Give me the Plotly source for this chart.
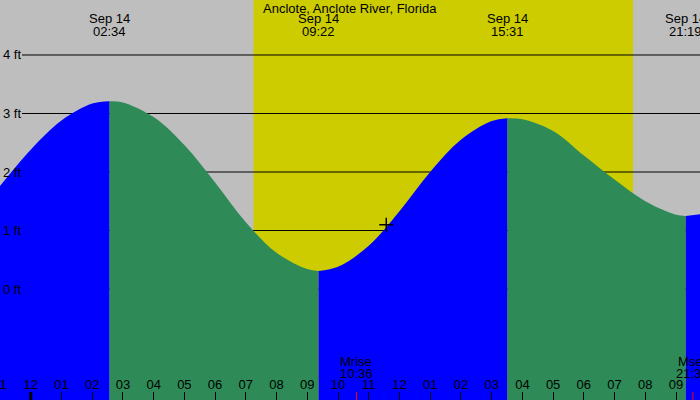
import plotly.graph_objects as go

title = "Anclote, Anclote River, Florida"

# times are hours from 00:00 on Sep 14
extreme_times = [2.567, 9.367, 15.517, 21.317]
extreme_dates = ["Sep 14", "Sep 14", "Sep 14", "Sep 14"]
extreme_clock = ["02:34", "09:22", "15:31", "21:19"]

# tide heights (ft), one list per rising/falling stretch
seg1_t = [-1, 0, 1, 2, 2.567]
seg1_h = [1.76, 2.38, 2.88, 3.17, 3.21]
seg2_t = [2.567, 3, 4, 5, 6, 7, 8, 9, 9.367]
seg2_h = [3.21, 3.19, 2.94, 2.46, 1.82, 1.14, 0.62, 0.34, 0.31]
seg3_t = [9.367, 10, 11, 12, 13, 14, 15, 15.517]
seg3_h = [0.31, 0.38, 0.74, 1.33, 2.00, 2.55, 2.87, 2.92]
seg4_t = [15.517, 16, 17, 18, 19, 20, 21, 21.317]
seg4_h = [2.92, 2.90, 2.70, 2.28, 1.87, 1.50, 1.27, 1.25]
seg5_t = [21.317, 22]
seg5_h = [1.25, 1.29]

hour_ticks = list(range(-1, 23))
hour_labels = ["11", "12", "01", "02", "03", "04", "05", "06", "07", "08", "09", "10",
               "11", "12", "01", "02", "03", "04", "05", "06", "07", "08", "09", "10"]

level_ticks = [0, 1, 2, 3, 4]
level_labels = ["0 ft", "1 ft", "2 ft", "3 ft", "4 ft"]

sunrise, sunset = 7.25, 19.6
moon_events = [("Mrise", "10:36", 10.6), ("Mset", "21:33", 21.55)]
now_t, now_h = 11.57, 1.1

X_RANGE = [-1.0, 21.78]
Y_RANGE = [-1.897, 4.94]

GRAY = "#BEBEBE"
YELLOW = "#CCCC00"
BLUE = "#0000FF"
GREEN = "#2E8B57"
FONT = "Liberation Sans"

fig = go.Figure()

segments = [(seg1_t, seg1_h, BLUE), (seg2_t, seg2_h, GREEN), (seg3_t, seg3_h, BLUE),
            (seg4_t, seg4_h, GREEN), (seg5_t, seg5_h, BLUE)]
base = Y_RANGE[0] - 1
for ts, hs, col in segments:
    fig.add_trace(go.Scatter(x=[ts[0], ts[-1]], y=[base, base], mode="lines",
                             line=dict(width=0, color=col), hoverinfo="skip", showlegend=False))
    fig.add_trace(go.Scatter(x=ts, y=hs, mode="lines", fill="tonexty", fillcolor=col,
                             line=dict(width=0, color=col, shape="spline"),
                             hoverinfo="skip", showlegend=False))

fig.add_trace(go.Scatter(x=[now_t], y=[now_h], mode="markers",
                         marker=dict(symbol="cross-thin", size=10, line=dict(width=1.5, color="black")),
                         showlegend=False, hoverinfo="skip"))

shapes = [dict(type="rect", xref="x", yref="paper", x0=sunrise, x1=sunset, y0=0, y1=1,
               fillcolor=YELLOW, line=dict(width=0), layer="below")]
for lv in level_ticks:
    shapes.append(dict(type="line", xref="paper", yref="y", x0=22 / 700, x1=1, y0=lv, y1=lv,
                       line=dict(color="black", width=1), layer="below"))
# midnight tick
shapes.append(dict(type="line", xref="x", yref="paper", x0=0, x1=0, y0=0, y1=8 / 400,
                   line=dict(color="black", width=3), layer="above"))
for name, clock, t in moon_events:
    shapes.append(dict(type="line", xref="x", yref="paper", x0=t, x1=t, y0=0, y1=8 / 400,
                       line=dict(color="red", width=1), layer="above"))

annotations = [dict(text=title, xref="paper", yref="paper", x=0.5, y=1 - 8 / 400,
                    xanchor="center", yanchor="middle", showarrow=False,
                    font=dict(family=FONT, size=13, color="black"))]
for t, d, c in zip(extreme_times, extreme_dates, extreme_clock):
    annotations.append(dict(text=d, xref="x", yref="paper", x=t, y=1 - 19 / 400,
                            xanchor="center", yanchor="middle", showarrow=False,
                            font=dict(family=FONT, size=13, color="black")))
    annotations.append(dict(text=c, xref="x", yref="paper", x=t, y=1 - 31 / 400,
                            xanchor="center", yanchor="middle", showarrow=False,
                            font=dict(family=FONT, size=13, color="black")))
for lv, lab in zip(level_ticks, level_labels):
    annotations.append(dict(text=lab, xref="paper", yref="y", x=2 / 700, y=lv,
                            xanchor="left", yanchor="middle", showarrow=False, borderpad=0,
                            font=dict(family=FONT, size=13, color="black")))
for name, clock, t in moon_events:
    annotations.append(dict(text=name, xref="x", yref="paper", x=t, y=1 - 361 / 400,
                            xanchor="center", yanchor="middle", showarrow=False,
                            font=dict(family=FONT, size=13, color="black")))
    annotations.append(dict(text=clock, xref="x", yref="paper", x=t, y=1 - 373 / 400,
                            xanchor="center", yanchor="middle", showarrow=False,
                            font=dict(family=FONT, size=13, color="black")))

fig.update_layout(
    width=700, height=400, margin=dict(l=0, r=0, t=0, b=0, autoexpand=False),
    paper_bgcolor=GRAY, plot_bgcolor=GRAY,
    xaxis=dict(range=X_RANGE, showgrid=False, zeroline=False, showline=False,
               automargin=False,
               tickmode="array", tickvals=hour_ticks, ticktext=hour_labels,
               ticks="inside", ticklen=8, tickwidth=1, tickcolor="black",
               ticklabelposition="inside", ticklabeloverflow="allow",
               tickfont=dict(family=FONT, size=13, color="black")),
    yaxis=dict(range=Y_RANGE, visible=False),
    shapes=shapes, annotations=annotations,
)

fig.write_html("out.html", config={"displayModeBar": False},
               post_script="document.body.style.margin='0px';document.body.style.overflow='hidden';")
